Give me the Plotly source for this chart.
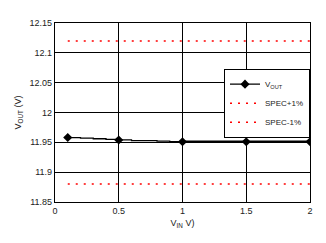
import plotly.graph_objects as go

vin = [0.1, 0.2, 0.3, 0.4, 0.5, 0.6, 0.7, 0.8, 0.9, 1.0, 1.25, 1.5, 1.75, 2.0]
vout = [11.958, 11.957, 11.956, 11.955, 11.954, 11.953, 11.953, 11.952, 11.951, 11.951, 11.951, 11.951, 11.951, 11.951]
vin_mk = [0.1, 0.5, 1.0, 1.5, 2.0]
vout_mk = [11.958, 11.954, 11.951, 11.951, 11.951]
spec_x = [0.1, 2.0]
spec_hi = [12.12, 12.12]
spec_lo = [11.88, 11.88]

fig = go.Figure()
fig.add_trace(go.Scatter(x=vin, y=vout, mode="lines", line=dict(color="black", width=1.3, shape="hv"),
                         showlegend=False, hoverinfo="skip"))
fig.add_trace(go.Scatter(x=vin_mk[2:], y=vout_mk[2:], mode="lines", line=dict(color="black", width=2.5),
                         showlegend=False, hoverinfo="skip"))
fig.add_trace(go.Scatter(x=vin_mk, y=vout_mk, mode="markers", name="V<sub>OUT</sub>",
                         marker=dict(symbol="diamond", size=7, color="black"), showlegend=False))
fig.add_trace(go.Scatter(x=[None], y=[None], mode="lines+markers", name="V<sub>OUT</sub>",
                         line=dict(color="black", width=1.3), marker=dict(symbol="diamond", size=7, color="black")))
fig.add_trace(go.Scatter(x=spec_x, y=spec_hi, mode="lines", name="SPEC+1%",
                         line=dict(color="red", width=1.5, dash="2px,6px")))
fig.add_trace(go.Scatter(x=spec_x, y=spec_lo, mode="lines", name="SPEC-1%",
                         line=dict(color="red", width=1.5, dash="2px,6px")))

font = dict(family="Liberation Sans, Arial, sans-serif", size=9, color="#222")
fig.update_layout(
    width=326, height=243,
    margin=dict(l=55, r=16, t=23, b=41),
    paper_bgcolor="white", plot_bgcolor="white",
    font=font,
    xaxis=dict(range=[0, 2], tickvals=[0, 0.5, 1, 1.5, 2], ticktext=["0", "0.5", "1", "1.5", "2"],
               showgrid=True, gridcolor="black", gridwidth=1.3, zeroline=False,
               showline=True, linecolor="black", linewidth=1.3, mirror=True, ticks="",
               title=dict(text="V<sub>IN</sub> V)", standoff=4, font=font)),
    yaxis=dict(range=[11.85, 12.15], tickvals=[11.85, 11.9, 11.95, 12.0, 12.05, 12.1, 12.15],
               ticktext=["11.85", "11.9", "11.95", "12", "12.05", "12.1", "12.15"],
               showgrid=True, gridcolor="black", gridwidth=1.3, zeroline=False,
               showline=True, linecolor="black", linewidth=1.3, mirror=True, ticks="",
               title=dict(text="V<sub>OUT</sub> (V)", standoff=6, font=font)),
    legend=dict(x=1.0, y=0.745, xanchor="right", yanchor="top", bgcolor="white",
                bordercolor="black", borderwidth=1, font=dict(size=8, family=font["family"], color="#222"),
                tracegroupgap=0, itemwidth=30),
    showlegend=True,
)
fig.write_html("out.html")
